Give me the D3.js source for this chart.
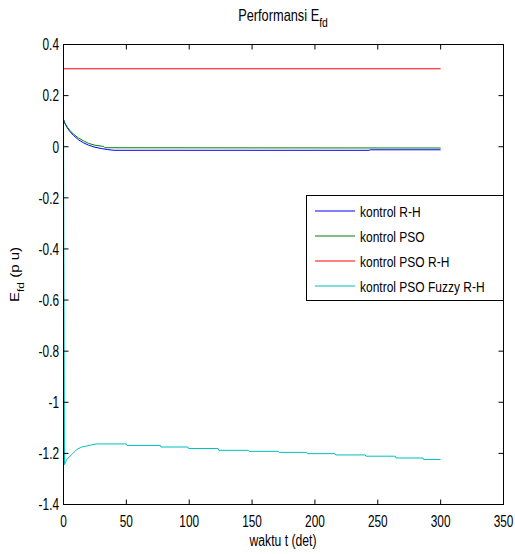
<!DOCTYPE html>
<html>
<head>
<meta charset="utf-8">
<script src="https://cdn.jsdelivr.net/npm/d3@7"></script>
<style>
  body { margin: 0; background: #fff; }
  text { font-family: "Liberation Sans", Arial, sans-serif; fill: #000; }
</style>
</head>
<body>
<div class="efd-viz"></div>
<script>
const WIDTH = 515,
    HEIGHT = 554,
    SX = 0.8; // the picture is squeezed sideways, so is the text

// tick labels
const xTicks = [0, 50, 100, 150, 200, 250, 300, 350];
const yTicks = [0.4, 0.2, 0, -0.2, -0.4, -0.6, -0.8, -1, -1.2, -1.4];

// series (t in det, E_fd in pu)
const rhT = [0, 1, 3, 5, 8, 12, 16, 20, 25, 30, 35, 40, 243, 244, 300];
const rhV = [0.106, 0.092, 0.074, 0.06, 0.044, 0.027, 0.015, 0.006, -0.002, -0.007, -0.011, -0.014, -0.014, -0.012, -0.012];

const psoT = [0, 1, 3, 5, 8, 12, 16, 20, 25, 32, 33, 300];
const psoV = [0.106, 0.094, 0.077, 0.064, 0.049, 0.034, 0.023, 0.013, 0.006, 0.001, -0.004, -0.005];

const psoRhT = [0, 300];
const psoRhV = [0.305, 0.305];

const fuzzyT = [0, 0.8, 2.5, 6.5, 10.5, 14.5, 18.5, 22, 26.5,
    50, 50.5, 77, 77.5, 99, 99.5, 123, 123.5, 147, 147.5, 171, 171.5,
    193.5, 194, 216, 216.5, 240, 240.5, 264, 264.5, 286, 286.5, 300];
const fuzzyV = [0.106, -1.244, -1.224, -1.205, -1.185, -1.175, -1.171, -1.167, -1.163,
    -1.163, -1.169, -1.169, -1.175, -1.175, -1.181, -1.181, -1.188, -1.188, -1.192, -1.192, -1.196,
    -1.196, -1.201, -1.201, -1.206, -1.206, -1.211, -1.211, -1.218, -1.218, -1.224, -1.224];

const seriesNames = ["kontrol R-H", "kontrol PSO", "kontrol PSO R-H", "kontrol PSO Fuzzy R-H"];
const seriesColors = ["#0000ff", "#008000", "#ff0000", "#00c0c0"];

const series = [
    d3.zip(rhT, rhV),
    d3.zip(psoT, psoV),
    d3.zip(psoRhT, psoRhV),
    d3.zip(fuzzyT, fuzzyV)
];

const svg = d3.select(".efd-viz")
    .append("svg")
    .attr("width", WIDTH)
    .attr("height", HEIGHT);

const x = d3.scaleLinear().domain([0, 350]).range([63.5, 503.5]);
const y = d3.scaleLinear().domain([-1.4, 0.4]).range([504.5, 44.5]);

// squeezed text helper
function label(g, str, px, py, anchor, size = 15, sx = SX) {
    return g.append("text")
        .attr("transform", `translate(${px},${py}) scale(${sx},1)`)
        .attr("text-anchor", anchor)
        .style("font-size", size + "px")
        .text(str);
}

// lines
const line = d3.line().x(d => x(d[0])).y(d => y(d[1]));
series.forEach((s, i) => {
    svg.append("path")
        .attr("d", line(s))
        .attr("fill", "none")
        .attr("stroke", seriesColors[i])
        .attr("stroke-width", 1);
});

// axes box with inward ticks on all four sides
const TL = 5;
svg.append("rect")
    .attr("x", x(0)).attr("y", y(0.4))
    .attr("width", x(350) - x(0)).attr("height", y(-1.4) - y(0.4))
    .attr("fill", "none").attr("stroke", "#000").attr("stroke-width", 1);

xTicks.forEach(t => {
    svg.append("line").attr("x1", x(t)).attr("x2", x(t))
        .attr("y1", y(-1.4)).attr("y2", y(-1.4) - TL).attr("stroke", "#000");
    svg.append("line").attr("x1", x(t)).attr("x2", x(t))
        .attr("y1", y(0.4)).attr("y2", y(0.4) + TL).attr("stroke", "#000");
    label(svg, String(t), x(t), 526.5, "middle", 16, 0.74);
});

yTicks.forEach(v => {
    svg.append("line").attr("x1", x(0)).attr("x2", x(0) + TL)
        .attr("y1", y(v)).attr("y2", y(v)).attr("stroke", "#000");
    svg.append("line").attr("x1", x(350)).attr("x2", x(350) - TL)
        .attr("y1", y(v)).attr("y2", y(v)).attr("stroke", "#000");
    label(svg, String(v), 59, y(v) + 5.8, "end", 16, 0.74);
});

// title
const title = label(svg, null, 283, 21, "middle", 16);
title.append("tspan").text("Performansi E");
title.append("tspan").attr("dy", 6).style("font-size", "13px").text("fd");

// axis labels
label(svg, "waktu t (det)", 283, 546, "middle", 16, 0.76);

const yl = svg.append("text")
    .attr("transform", `translate(19,${(y(0.4) + y(-1.4)) / 2}) rotate(-90) scale(1,${SX})`)
    .attr("text-anchor", "middle")
    .style("font-size", "15px");
yl.append("tspan").text("E");
yl.append("tspan").attr("dy", 6).style("font-size", "12px").text("fd");
yl.append("tspan").attr("dy", -6).text("  (p u)");

// legend
const lg = svg.append("g");
lg.append("rect")
    .attr("x", 306.5).attr("y", 195.5).attr("width", 197).attr("height", 105)
    .attr("fill", "#fff").attr("stroke", "#000").attr("stroke-width", 1);
seriesNames.forEach((name, i) => {
    const ry = 211 + i * 25;
    lg.append("line")
        .attr("x1", 315).attr("x2", 355).attr("y1", ry).attr("y2", ry)
        .attr("stroke", seriesColors[i]);
    label(lg, name, 360, ry + 5.5, "start");
});
</script>
</body>
</html>
